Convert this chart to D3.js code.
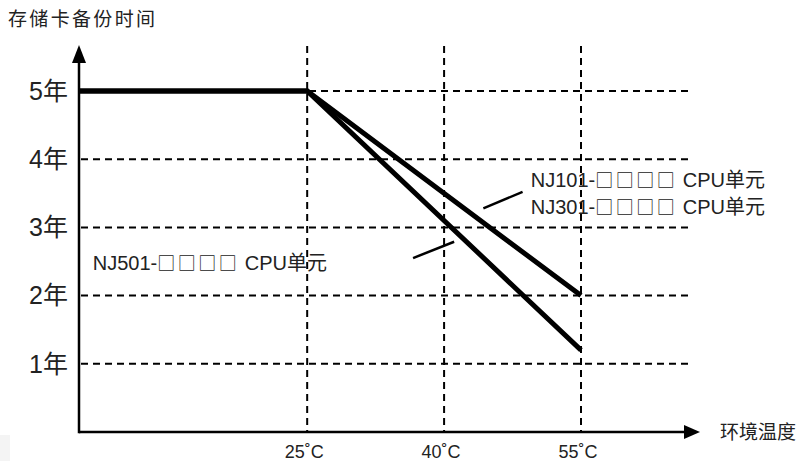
<!DOCTYPE html>
<html><head><meta charset="utf-8">
<script src="https://cdn.jsdelivr.net/npm/d3@7"></script>
<style>
html,body{margin:0;padding:0;background:#fff;}
svg{display:block;font-family:"Liberation Sans",Arial,"Noto Sans CJK SC",sans-serif;}
.cjk{font-family:"Noto Sans CJK SC",sans-serif;}
</style></head>
<body>
<svg id="c" width="802" height="461"></svg>
<script>
// ---- data ----
const yTicks = [1, 2, 3, 4, 5];
const yTickLabels = ["1年", "2年", "3年", "4年", "5年"];
const xTicks = [25, 40, 55];
const xTickLabels = ["25˚C", "40˚C", "55˚C"];
const seriesTemps = [0, 25, 55];
const seriesNJ101 = [5, 5, 2];     // NJ101/NJ301
const seriesNJ501 = [5, 5, 1.2];   // NJ501
const labelNJ101 = [["NJ101-", "□□□□", " CPU单元"], ["NJ301-", "□□□□", " CPU单元"]];
const labelNJ501 = ["NJ501-", "□□□□", " CPU单元"];
const yTitle = "存储卡备份时间";
const xTitle = "环境温度";

const svg = d3.select("#c");
const x = d3.scaleLinear().domain([0, 55]).range([79, 581]);
const y = d3.scaleLinear().domain([0, 5]).range([432, 91]);

// faint artifact
svg.append("rect").attr("x", 0).attr("y", 435).attr("width", 10).attr("height", 26).attr("fill", "#f4f4f4");

// dashed grid
const g = svg.append("g").attr("stroke", "#000").attr("stroke-width", 2).attr("stroke-dasharray", "7,5").attr("fill", "none");
g.selectAll("line.h").data(yTicks).join("line")
  .attr("x1", x(0) + 2).attr("x2", 688)
  .attr("y1", d => y(d)).attr("y2", d => y(d));
g.selectAll("line.v").data(xTicks).join("line")
  .attr("x1", d => x(d)).attr("x2", d => x(d))
  .attr("y1", 46).attr("y2", y(0));

// axes
svg.append("line").attr("x1", x(0)).attr("x2", 688).attr("y1", y(0)).attr("y2", y(0))
  .attr("stroke", "#000").attr("stroke-width", 2.5);
svg.append("line").attr("x1", x(0)).attr("x2", x(0)).attr("y1", y(0) + 1.2).attr("y2", 60)
  .attr("stroke", "#000").attr("stroke-width", 2.5);
svg.append("path").attr("d", `M${x(0)},45 L${x(0) - 7},63 L${x(0) + 7},63 Z`).attr("fill", "#000");
svg.append("path").attr("d", `M700,${y(0)} L684,${y(0) - 7} L684,${y(0) + 7} Z`).attr("fill", "#000");

// x tick labels
svg.selectAll("text.xt").data(xTicks).join("text")
  .attr("x", d => x(d) - 3).attr("y", 458)
  .attr("text-anchor", "middle").attr("font-size", 18).attr("fill", "#222")
  .text((d, i) => xTickLabels[i]);

// y tick labels
svg.selectAll("text.yt").data(yTicks).join("text")
  .attr("x", 68).attr("y", d => y(d)).attr("dy", "0.35em")
  .attr("text-anchor", "end").attr("font-size", 25).attr("fill", "#222")
  .text((d, i) => yTickLabels[i]);

// titles
svg.append("text").attr("x", 8).attr("y", 26).attr("font-size", 19).attr("fill", "#222")
  .attr("textLength", 147).attr("lengthAdjust", "spacing").text(yTitle);
svg.append("text").attr("x", 720).attr("y", y(0)).attr("dy", "0.35em").attr("font-size", 19).attr("fill", "#222")
  .text(xTitle);

// series lines
const line = d3.line().x(d => x(d[0])).y(d => y(d[1]));
[seriesNJ101, seriesNJ501].forEach(vals => {
  svg.append("path").datum(seriesTemps.map((t, i) => [t, vals[i]]))
    .attr("d", line).attr("fill", "none").attr("stroke", "#000")
    .attr("stroke-width", 5).attr("stroke-linejoin", "miter");
});

// leader lines (data coords)
const leaders = [[[44.3, 3.28], [48.6, 3.52]], [[36.6, 2.55], [41.1, 2.79]]];
leaders.forEach(l => {
  svg.append("line").attr("x1", x(l[0][0])).attr("y1", y(l[0][1]))
    .attr("x2", x(l[1][0])).attr("y2", y(l[1][1]))
    .attr("stroke", "#000").attr("stroke-width", 2.5);
});

// labels
function label(parts, tx, ty) {
  const t = svg.append("text").attr("x", x(tx)).attr("y", y(ty)).attr("font-size", 20).attr("fill", "#222");
  t.append("tspan").text(parts[0]);
  t.append("tspan").attr("class", "cjk").attr("font-size", 18).attr("font-weight", 400)
    .attr("letter-spacing", 2.5).text(parts[1]);
  t.append("tspan").text(parts[2]);
}
label(labelNJ101[0], 49.5, 3.595);
label(labelNJ101[1], 49.5, 3.195);
label(labelNJ501, 1.5, 2.38);
</script>
</body></html>
